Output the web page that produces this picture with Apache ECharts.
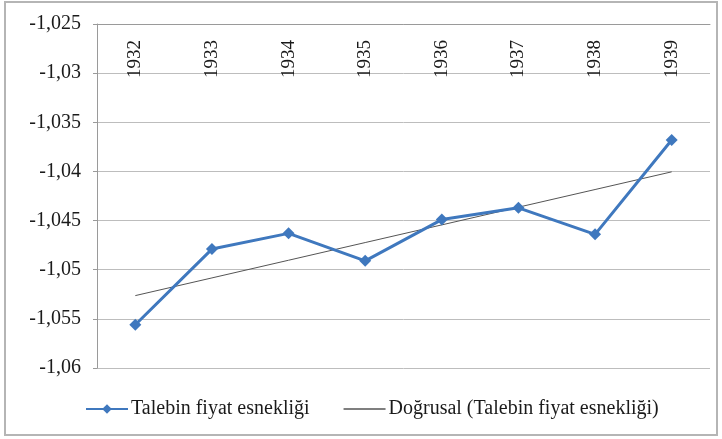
<!DOCTYPE html>
<html>
<head>
<meta charset="utf-8">
<script src="https://cdn.jsdelivr.net/npm/echarts@6/dist/echarts.min.js"></script>
<style>
  html, body { margin: 0; padding: 0; background: #fff; }
  #chart { width: 722px; height: 439px; }
</style>
</head>
<body>
<div id="chart"></div>
<script>
// yıllar ve esneklik değerleri
const years = ["1932", "1933", "1934", "1935", "1936", "1937", "1938", "1939"];
const elasticity = [-1.0556, -1.0479, -1.0463, -1.0491, -1.0449, -1.0437, -1.0464, -1.0368];
const seriesNames = ["Talebin fiyat esnekliği", "Doğrusal (Talebin fiyat esnekliği)"];

// doğrusal eğilim (en küçük kareler)
const n = elasticity.length;
const mx = (n - 1) / 2;
const my = elasticity.reduce((a, b) => a + b, 0) / n;
let sxy = 0, sxx = 0;
elasticity.forEach((v, i) => { sxy += (i - mx) * (v - my); sxx += (i - mx) * (i - mx); });
const slope = sxy / sxx;
const trend = elasticity.map((v, i) => my + slope * (i - mx));

const font = "Liberation Serif";
const blue = "#3f78be";

let chart = echarts.init(document.getElementById("chart"));
chart.setOption({
  animation: false,
  backgroundColor: "#fff",
  textStyle: { fontFamily: font },
  graphic: [
    {
      type: "rect",
      shape: { x: 5, y: 2, width: 712, height: 433 },
      style: { fill: "none", stroke: "#b5b5b5", lineWidth: 2 },
      silent: true
    }
  ],
  grid: { left: 97, right: 12, top: 24, bottom: 71 },
  legend: {
    bottom: 15,
    left: 80,
    itemGap: 34,
    itemWidth: 42,
    itemHeight: 12,
    textStyle: { fontFamily: font, fontSize: 20, color: "#1a1a1a", padding: [0, 0, 0, -2] },
    data: [
      { name: seriesNames[0] },
      { name: seriesNames[1], icon: "path://M0,0H42V1.4H0Z" }
    ]
  },
  xAxis: {
    type: "category",
    position: "top",
    data: years,
    boundaryGap: true,
    axisLine: { lineStyle: { color: "#9a9a9a", width: 1 } },
    axisTick: { inside: true, length: 6, lineStyle: { color: "#9a9a9a" } },
    axisLabel: {
      inside: true,
      rotate: -90,
      margin: 16,
      fontFamily: font,
      fontSize: 19,
      color: "#1a1a1a"
    },
    splitLine: { show: false }
  },
  yAxis: {
    type: "value",
    min: -1.06,
    max: -1.025,
    interval: 0.005,
    axisLine: { show: true, lineStyle: { color: "#9a9a9a" } },
    axisTick: { show: true, length: 4, lineStyle: { color: "#9a9a9a" } },
    axisLabel: {
      margin: 16,
      fontFamily: font,
      fontSize: 20,
      color: "#1a1a1a",
      formatter: function (v) {
        return parseFloat(v.toFixed(3)).toString().replace(".", ",");
      }
    },
    splitLine: { lineStyle: { color: "#bdbdbd", width: 1 } }
  },
  series: [
    {
      name: seriesNames[0],
      type: "line",
      data: elasticity,
      symbol: "diamond",
      symbolSize: 12,
      itemStyle: { color: blue },
      lineStyle: { color: blue, width: 3 },
      z: 3
    },
    {
      name: seriesNames[1],
      type: "line",
      data: trend,
      symbol: "none",
      itemStyle: { color: "#555" },
      lineStyle: { color: "#555", width: 1 },
      z: 2
    }
  ]
});
</script>
</body>
</html>
